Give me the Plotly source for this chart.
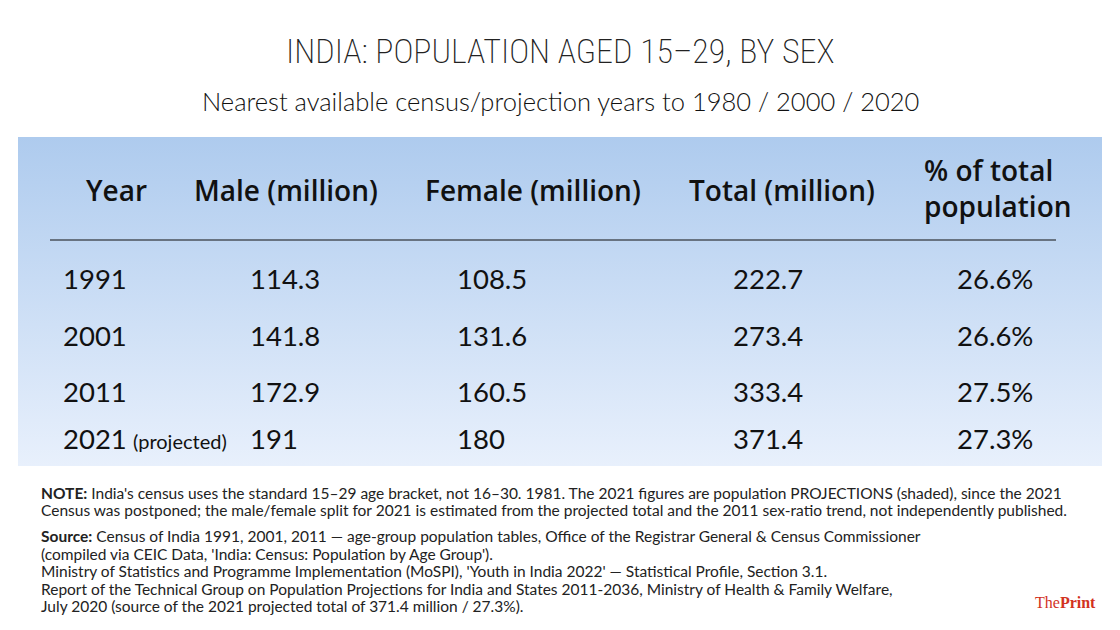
import plotly.graph_objects as go

# ---- data ----
years = ["1991", "2001", "2011", "2021"]
year_notes = ["", "", "", "(projected)"]
male = [114.3, 141.8, 172.9, 191]
female = [108.5, 131.6, 160.5, 180]
total = [222.7, 273.4, 333.4, 371.4]
pct = [26.6, 26.6, 27.5, 27.3]
headers = ["Year", "Male (million)", "Female (million)", "Total (million)", "% of total<br>population"]

title = "INDIA: POPULATION AGED 15–29, BY SEX"
subtitle = "Nearest available census/projection years to 1980 / 2000 / 2020"
note_lines = [
    "<b>NOTE:</b> India's census uses the standard 15–29 age bracket, not 16–30. 1981. The 2021 figures are population PROJECTIONS (shaded), since the 2021",
    "Census was postponed; the male/female split for 2021 is estimated from the projected total and the 2011 sex-ratio trend, not independently published.",
]
source_lines = [
    "<b>Source:</b> Census of India 1991, 2001, 2011 — age-group population tables, Office of the Registrar General & Census Commissioner",
    "(compiled via CEIC Data, 'India: Census: Population by Age Group').",
    "Ministry of Statistics and Programme Implementation (MoSPI), 'Youth in India 2022' — Statistical Profile, Section 3.1.",
    "Report of the Technical Group on Population Projections for India and States 2011-2036, Ministry of Health & Family Welfare,",
    "July 2020 (source of the 2021 projected total of 371.4 million / 27.3%).",
]

# ---- layout constants (pixel-like coordinate system) ----
W, H = 1120, 630
box = dict(x0=18, x1=1102, y0=137, y1=466)
row_y = [282, 339, 395, 442]
col_x = [63, 250, 457, 733, 957]
header_x = [116, 286, 533, 782, 922]
header_y = 190

COND = "Roboto Condensed, Liberation Sans Narrow, DejaVu Sans Condensed, Arial Narrow, sans-serif"
SANS = "Lato, Noto Sans, sans-serif"
HEAD = "Open Sans, Noto Sans, sans-serif"

fig = go.Figure()

# gradient background of the table
fig.add_trace(go.Scatter(
    x=[box["x0"], box["x1"], box["x1"], box["x0"], box["x0"]],
    y=[box["y0"], box["y0"], box["y1"], box["y1"], box["y0"]],
    mode="lines", line=dict(width=0), fill="toself",
    fillgradient=dict(type="vertical", colorscale=[[0, "#aecbee"], [1, "#e8f0fc"]],
                      start=box["y0"], stop=box["y1"]),
    hoverinfo="skip", showlegend=False,
))

# header rule
fig.add_shape(type="line", x0=50, x1=1056, y0=240, y1=240, line=dict(color="#111", width=1.2))

def fmt(v):
    return f"{v:g}"

cols = [
    years,
    [fmt(v) for v in male],
    [fmt(v) for v in female],
    [fmt(v) for v in total],
    [f"{v:.1f}%" for v in pct],
]
for cx, vals in zip(col_x, cols):
    fig.add_trace(go.Scatter(
        x=[cx] * len(vals), y=row_y, text=vals, mode="text",
        textposition="middle right",
        textfont=dict(family=SANS, size=27.5, color="#111"),
        hoverinfo="skip", showlegend=False,
    ))

# "(projected)" note
fig.add_trace(go.Scatter(
    x=[133] * len(year_notes), y=[y + 2 for y in row_y], text=year_notes, mode="text",
    textposition="middle right",
    textfont=dict(family=SANS, size=20, color="#111"),
    hoverinfo="skip", showlegend=False,
))

annotations = []
for i, (hx, h) in enumerate(zip(header_x, headers)):
    if i == len(headers) - 1:
        annotations.append(dict(x=hx, y=188, text=h, xanchor="left", yanchor="middle", align="left",
                                showarrow=False, font=dict(family=HEAD, size=28, color="#111", weight=600)))
    else:
        annotations.append(dict(x=hx, y=header_y, text=h, xanchor="center", yanchor="middle",
                                showarrow=False, font=dict(family=HEAD, size=28, color="#111", weight=600)))

annotations.append(dict(x=W / 2, y=51, text=title, xanchor="center", yanchor="middle", showarrow=False,
                        font=dict(family=COND, size=34, color="#222", weight=200)))
annotations.append(dict(x=W / 2, y=101, text=subtitle, xanchor="center", yanchor="middle", showarrow=False,
                        font=dict(family=SANS, size=25.5, color="#111", weight=300)))

note_y = [493, 510]
for y, t in zip(note_y, note_lines):
    annotations.append(dict(x=40, y=y, text=t, xanchor="left", yanchor="middle", showarrow=False,
                            borderpad=0, font=dict(family=SANS, size=15.5, color="#222")))
source_y = [536, 554, 571, 589, 606]
for y, t in zip(source_y, source_lines):
    annotations.append(dict(x=40, y=y, text=t, xanchor="left", yanchor="middle", showarrow=False,
                            borderpad=0, font=dict(family=SANS, size=15.5, color="#222")))

annotations.append(dict(x=1098, y=602, text="The<b>Print</b>", xanchor="right", yanchor="middle",
                        showarrow=False, font=dict(family="Liberation Serif, DejaVu Serif, serif",
                                                   size=16, color="#d2321e")))

fig.update_layout(
    width=W, height=H,
    margin=dict(l=0, r=0, t=0, b=0),
    paper_bgcolor="white", plot_bgcolor="white",
    xaxis=dict(range=[0, W], visible=False, fixedrange=True),
    yaxis=dict(range=[H, 0], visible=False, fixedrange=True),
    annotations=annotations,
    showlegend=False,
)

fig.write_html("out.html", config={"displayModeBar": False},
               post_script="document.body.style.margin='0';")
